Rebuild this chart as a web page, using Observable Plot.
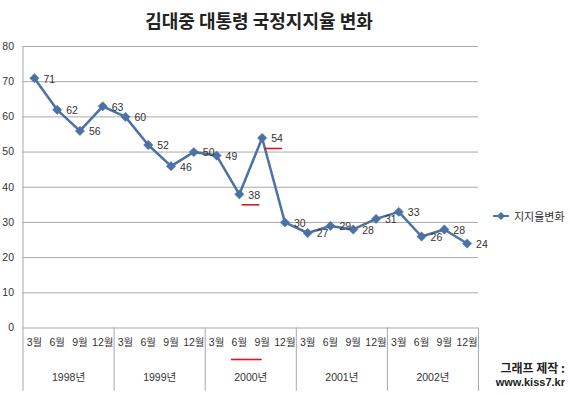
<!DOCTYPE html>
<html>
<head>
<meta charset="utf-8">
<script src="https://cdn.jsdelivr.net/npm/d3@7"></script>
<script src="https://cdn.jsdelivr.net/npm/@observablehq/plot@0.6"></script>
<style>
  html, body { margin: 0; padding: 0; background: #fff; }
  #wrap { position: relative; width: 570px; height: 395px; overflow: hidden; font-family: 'Liberation Sans', 'Noto Sans CJK KR', sans-serif; }
  #title { position: absolute; left: 0; width: 518px; top: 6px; text-align: center; font-family: 'Noto Sans CJK KR', sans-serif; font-weight: bold; font-size: 18px; color: #222; line-height: 28px; }
  #legend { position: absolute; left: 493px; top: 208px; font-size: 11px; color: #333; display: flex; align-items: center; font-family: 'Noto Sans CJK KR', sans-serif; }
  #legend svg { margin-right: 5px; }
  #credit { position: absolute; right: 5px; top: 360px; text-align: right; font-weight: bold; color: #222; line-height: 15px; }
  #credit .k { font-family: 'Noto Sans CJK KR', sans-serif; font-size: 12px; }
  #credit .u { font-family: 'Liberation Sans', sans-serif; font-size: 11px; }
  #chart { position: absolute; left: 0; top: 0; }
</style>
</head>
<body>
<div id="wrap">
  <div id="chart"></div>
  <div id="title"></div>
  <div id="legend"></div>
  <div id="credit"></div>
</div>
<script>
const title = "김대중 대통령 국정지지율 변화";
const seriesName = "지지율변화";
const years = ["1998년", "1999년", "2000년", "2001년", "2002년"];
const months = ["3월", "6월", "9월", "12월"];
const values = [71, 62, 56, 63, 60, 52, 46, 50, 49, 38, 54, 30, 27, 29, 28, 31, 33, 26, 28, 24];
const yTicks = [0, 10, 20, 30, 40, 50, 60, 70, 80];
const highlighted = ["2000년 6월", "2000년 9월"];
const credit = ["그래프 제작 :", "www.kiss7.kr"];

const lineColor = "#4b72a5";
const gridColor = "#a9a9a9";
const markRed = "#e0141e";

const data = values.map((v, i) => ({
  i,
  year: years[Math.floor(i / months.length)],
  month: months[i % months.length],
  value: v
}));
const hi = data.filter(d => highlighted.includes(d.year + " " + d.month));
const separators = d3.range(years.length + 1).map(k => k * months.length - 0.5);

const chart = Plot.plot({
  width: 570,
  height: 395,
  marginTop: 46,
  marginLeft: 22.5,
  marginRight: 92,
  marginBottom: 67.5,
  style: { fontFamily: "'Liberation Sans','Noto Sans CJK KR',sans-serif", fontSize: "10.5px", color: "#333", background: "transparent" },
  x: { domain: [-0.5, values.length - 0.5], axis: null },
  y: { domain: [0, 80], axis: null },
  marks: [
    Plot.ruleY(yTicks, { stroke: gridColor, strokeWidth: 1 }),
    Plot.ruleX(separators, { y1: 0, y2: -18, stroke: gridColor, strokeWidth: 1 }),
    Plot.ruleX([separators[0]], { y1: 0, y2: 80, stroke: gridColor, strokeWidth: 1 }),
    Plot.axisY(yTicks, { tickSize: 0, tickPadding: 9, label: null, fontSize: 10.5 }),
    Plot.axisX(d3.range(values.length), { tickSize: 0, tickPadding: 11, label: null, tickFormat: i => months[i % months.length], fontSize: 10.5 }),
    Plot.text(years, { x: (d, j) => j * months.length + (months.length - 1) / 2, y: 0, dy: 50, fontSize: 10.5, fill: "#333" }),
    Plot.line(data, { x: "i", y: "value", stroke: lineColor, strokeWidth: 2.5 }),
    Plot.dot(data, { x: "i", y: "value", symbol: "diamond2", r: 4.2, fill: lineColor, stroke: lineColor, strokeWidth: 0.5 }),
    Plot.text(data, { x: "i", y: "value", text: d => String(d.value), dx: 9, dy: 1, textAnchor: "start", fontSize: 10.5, fill: "#333" }),
    // hand-drawn red underlines
    Plot.ruleY(hi, { x1: d => d.i + 0.12, x2: d => d.i + 0.9, y: "value", dy: 10.5, stroke: markRed, strokeWidth: 1.6 }),
    Plot.ruleY([hi], { x1: h => h[0].i - 0.35, x2: h => h[h.length - 1].i, y: 0, dy: 31.5, stroke: markRed, strokeWidth: 1.6 })
  ]
});
document.getElementById("chart").appendChild(chart);

document.getElementById("title").textContent = title;

const lg = document.getElementById("legend");
lg.innerHTML = `<svg width="16" height="10"><line x1="0" y1="5" x2="16" y2="5" stroke="${lineColor}" stroke-width="2"/><path d="M8,1 L12,5 L8,9 L4,5 Z" fill="${lineColor}"/></svg><span></span>`;
lg.querySelector("span").textContent = seriesName;

const cr = document.getElementById("credit");
cr.innerHTML = `<div class="k"></div><div class="u"></div>`;
cr.querySelector(".k").textContent = credit[0];
cr.querySelector(".u").textContent = credit[1];
</script>
</body>
</html>
